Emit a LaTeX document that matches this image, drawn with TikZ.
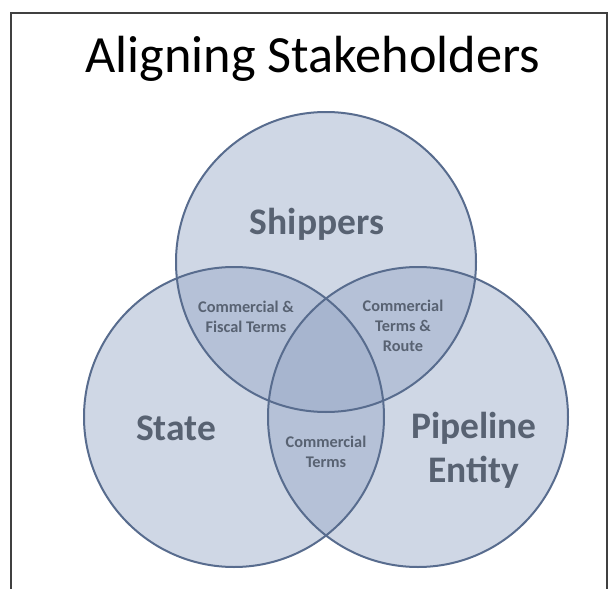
\documentclass[tikz,border=0pt]{standalone}
\usepackage{fontspec}
\setmainfont{Carlito}
\begin{document}
\begin{tikzpicture}[x=1pt,y=-1pt,
  frameline/.style={draw=black!75,line width=1.3pt},
  setfill/.style={fill={rgb,255:red,150;green,168;blue,198},fill opacity=0.45},
  setline/.style={draw={rgb,255:red,88;green,108;blue,142},line width=2pt},
  biglabel/.style={font=\fontsize{37.5}{44}\selectfont\bfseries,text={rgb,255:red,88;green,98;blue,114},align=center},
  smalllabel/.style={font=\fontsize{16.3}{20}\selectfont\bfseries,text={rgb,255:red,88;green,98;blue,114},align=center},
  titletext/.style={font=\fontsize{52.3}{60}\selectfont}]
  \useasboundingbox (0,0) rectangle (614,589);
  \fill[white] (0,0) rectangle (614,589);
  % open frame running off the bottom edge
  \begin{scope}
    \clip (0,0) rectangle (614,589);
    \draw[frameline] (11,600) -- (11,13) -- (607,13) -- (607,600);
  \end{scope}
  % title
  \node[titletext,anchor=base] (title) at (313,72) {Aligning Stakeholders};
  % circle centres
  \coordinate (cship) at (326,262);
  \coordinate (cstate) at (234,417);
  \coordinate (cpipe) at (418,417);
  % translucent fills
  \fill[setfill] (cship) circle (150);
  \fill[setfill] (cstate) circle (150);
  \fill[setfill] (cpipe) circle (150);
  % outlines on top
  \draw[setline] (cship) circle (150);
  \draw[setline] (cstate) circle (150);
  \draw[setline] (cpipe) circle (150);
  % set labels
  \node[biglabel] (shippers) at (317,224) {Shippers};
  \node[biglabel] (state) at (176,428) {State};
  \node[biglabel] (pipeline) at (474,450) {Pipeline\\Entity};
  % overlap labels
  \node[smalllabel] (fiscal) at (246,317) {Commercial \&\\Fiscal Terms};
  \node[smalllabel] (route) at (403,326) {Commercial\\Terms \&\\Route};
  \node[smalllabel] (terms) at (326,452) {Commercial\\Terms};
\end{tikzpicture}
\end{document}
